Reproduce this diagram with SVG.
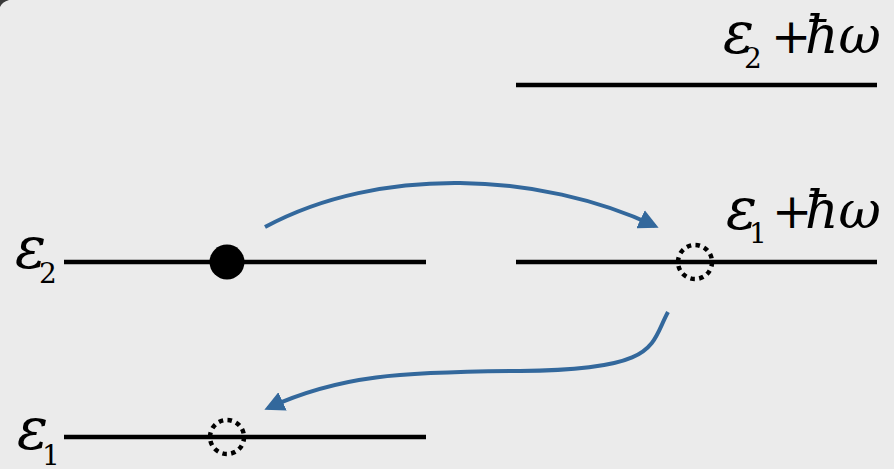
<svg xmlns="http://www.w3.org/2000/svg" width="894" height="469" viewBox="0 0 894 469">
  <style>
    .lvl { stroke: #000; stroke-width: 4.5; fill: none; }
    text { font-family: "DejaVu Serif", serif; fill: #000; }
    .sym { font-style: italic; font-size: 58px; }
    .hw { font-style: italic; font-size: 52px; }
    .sub { font-style: normal; font-size: 28px; }
    .op { font-style: normal; font-size: 48px; }
    .hole { fill: none; stroke: #000; stroke-width: 4.5; stroke-dasharray: 4.5 4.4; }
    .arrow { fill: none; stroke: #33689c; stroke-width: 4; marker-end: url(#head); }
  </style>
  <defs>
    <marker id="head" viewBox="0 0 10 10" refX="8" refY="5" markerWidth="5" markerHeight="5" markerUnits="strokeWidth" orient="auto">
      <path d="M0,0 L10,5 L0,10 Z" fill="#33689c"/>
    </marker>
  </defs>

  <rect width="894" height="469" fill="#ebebeb"/>
  <!-- corner of the frame -->
  <path d="M0,7 Q2,2 9,0 L0,0 Z" fill="#3a3a3a"/>

  <g id="level-e2">
    <line class="lvl" x1="64" y1="262" x2="426" y2="262"/>
    <text><tspan class="sym" x="15" y="268" font-size="54">ε</tspan><tspan class="sub" x="39" y="283" font-size="22">2</tspan></text>
  </g>

  <g id="level-e1">
    <line class="lvl" x1="64" y1="437" x2="426" y2="437"/>
    <text><tspan class="sym" x="17" y="449" font-size="54">ε</tspan><tspan class="sub" x="42" y="465" font-size="23">1</tspan></text>
  </g>

  <g id="level-e1-hw">
    <line class="lvl" x1="516" y1="262" x2="877" y2="262"/>
    <text><tspan class="sym" x="726" y="229">ε</tspan><tspan class="sub" x="749" y="243">1</tspan><tspan class="op" x="772" y="228">+</tspan><tspan class="hw" x="805" y="228">ħω</tspan></text>
  </g>

  <g id="level-e2-hw">
    <line class="lvl" x1="516" y1="85" x2="877" y2="85"/>
    <text><tspan class="sym" x="723" y="53">ε</tspan><tspan class="sub" x="744" y="68">2</tspan><tspan class="op" x="771" y="53">+</tspan><tspan class="hw" x="805" y="53">ħω</tspan></text>
  </g>

  <g id="electron">
    <circle cx="227" cy="262" r="17.5" fill="#000"/>
  </g>

  <g id="hole-e1">
    <circle class="hole" cx="227" cy="437" r="17"/>
  </g>

  <g id="hole-e1-hw">
    <circle class="hole" cx="695" cy="262" r="17"/>
  </g>

  <g id="connectors">
    <path class="arrow" d="M265,227 C380,165 540,172 655,226"/>
    <path class="arrow" d="M668,312 C650,345 660,370 520,371 C400,372 340,375 268,408"/>
  </g>
</svg>
